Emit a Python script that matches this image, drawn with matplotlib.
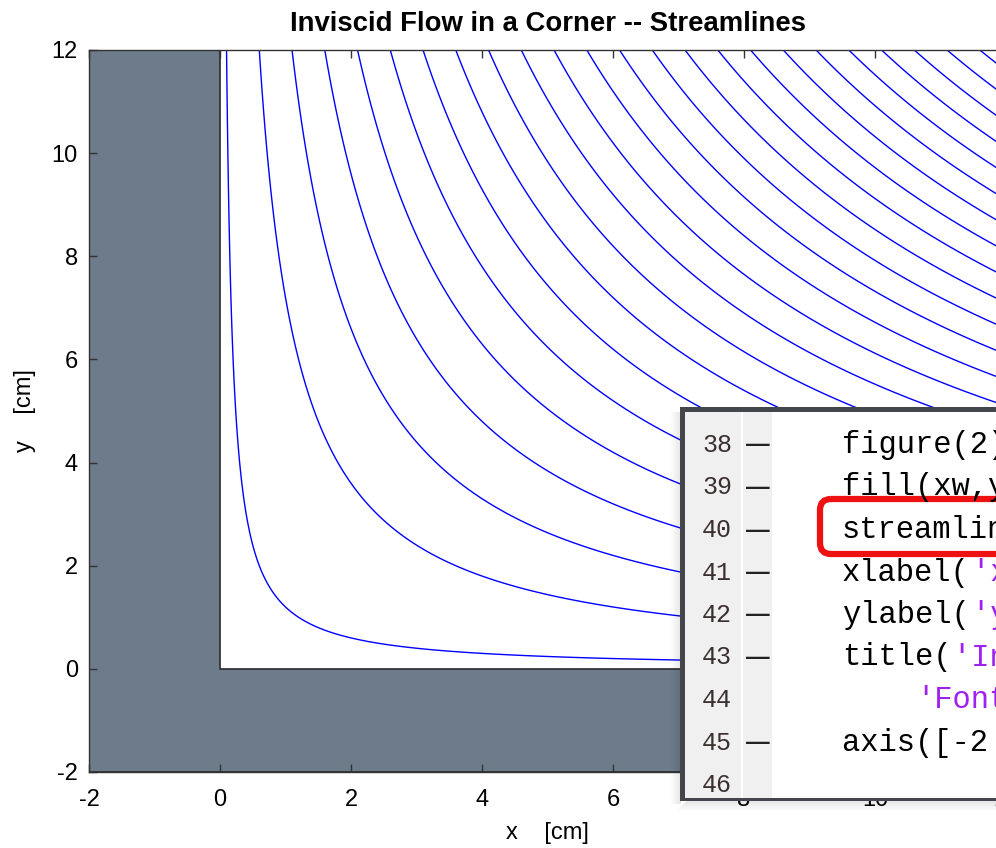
import numpy as np
import matplotlib
matplotlib.use("Agg")
import matplotlib.pyplot as plt
from matplotlib.patches import Rectangle, FancyBboxPatch

# --- données ---
# valeurs de la fonction de courant psi = x*y (une ligne par valeur)
psi_levels = [1.2, 7.2, 13.2, 19.2, 25.2, 31.2, 37.2, 43.2, 49.2, 55.2, 61.2, 67.2,
              73.2, 79.2, 85.2, 91.2, 97.2, 103.2, 109.2, 115.2, 121.2, 127.2,
              133.2, 139.2]
# contour de la paroi (coin)
wall_x = [-2, 12, 12, 0, 0, -2]
wall_y = [-2, -2, 0, 0, 12, 12]
ticks = [-2, 0, 2, 4, 6, 8, 10, 12]

# extrait de code affiché en incrustation: (numéro, tiret, code, chaîne)
code_lines = [
    ("37", False, "", ""),
    ("38", True, "figure(2)", ""),
    ("39", True, "fill(xw,yw,[0.43 0.48 0.55])", ""),
    ("40", True, "streamline(X,Y,U,V,sx,sy)", ""),
    ("41", True, "xlabel(", "'x    [cm]'"),
    ("42", True, "ylabel(", "'y    [cm]'"),
    ("43", True, "title(", "'Inviscid Flow in a Corner -- Streamlines'"),
    ("44", False, "    ", "'FontSize'"),
    ("45", True, "axis([-2 12 -2 12])", ""),
    ("46", False, "", ""),
]

plt.rcParams['font.family'] = ['Liberation Sans', 'DejaVu Sans']
plt.rcParams['axes.unicode_minus'] = False

W, H = 996, 848
fig = plt.figure(figsize=(W / 100, H / 100), dpi=100)
fig.patch.set_facecolor("white")

# axes principal (bord droit hors de l'image, comme sur la capture)
ax = fig.add_axes([89 / W, 1 - 772 / H, (1006 - 89) / W, (772 - 50) / H])
ax.fill(wall_x, wall_y, facecolor="#6d7b8b", edgecolor="#2a2a2a", linewidth=1.2, zorder=1)

xs = np.linspace(0.001, 12, 1500)
X, Y = np.meshgrid(xs, xs)
ax.contour(X, Y, X * Y, levels=psi_levels, colors="#0000ff", linewidths=1.0, zorder=2)

ax.set_xlim(-2, 12)
ax.set_ylim(-2, 12)
ax.set_xticks(ticks)
ax.set_yticks(ticks)
ax.tick_params(direction="in", length=6, width=1, color="#333333",
               top=True, right=True, labelsize=17, pad=8)
ax.tick_params(axis="x", pad=12)
for s in ax.spines.values():
    s.set_color("#333333")
    s.set_linewidth(1.0)
    s.set_zorder(3)
ax.set_xlabel("x    [cm]", fontsize=17, labelpad=8)
ax.set_ylabel("y    [cm]", fontsize=17, labelpad=11.5)
ax.set_title("Inviscid Flow in a Corner -- Streamlines", fontsize=19.8,
             fontweight="bold", pad=14)

# --- incrustation : capture de l'éditeur ---
ov = fig.add_axes([0, 0, 1, 1], zorder=10)
ov.set_xlim(0, W)
ov.set_ylim(H, 0)
ov.axis("off")
ov.patch.set_alpha(0)

# ombre portée
for i in range(10):
    a = 0.10 * (1 - i / 10)
    ov.add_patch(Rectangle((680 - i, 412), 1, 392, color="black", alpha=a, lw=0))
    ov.add_patch(Rectangle((680 - i + 6, 801 + i), 340, 1, color="black", alpha=a, lw=0))

ov.add_patch(Rectangle((680, 407), 340, 394, facecolor="#45454d", lw=0))
inner = Rectangle((685, 412), 340, 386, facecolor="white", lw=0)
ov.add_patch(inner)
ov.add_patch(Rectangle((685, 412), 56, 386, facecolor="#f0f0f0", lw=0))
ov.add_patch(Rectangle((743, 412), 29, 386, facecolor="#f0f0f0", lw=0))

y0, dy = 445, 42.5
for i, (num, dash, code, string) in enumerate(code_lines):
    yy = y0 + (i - 1) * dy
    t = ov.text(717, yy, num, fontsize=18, family="Liberation Mono",
                color="#3b3030", ha="center", va="center", clip_on=True)
    t.set_clip_path(inner)
    if dash:
        ov.text(758, yy, "\u2014", fontsize=17, fontweight="bold", color="#222222",
                ha="center", va="center")
    if code:
        ov.text(842, yy, code, fontsize=22, family="Liberation Mono",
                color="black", ha="left", va="center")
    if string:
        ov.text(842 + 18.5 * len(code), yy, string, fontsize=22,
                family="Liberation Mono", color="#a020f0", ha="left", va="center")

ov.add_patch(FancyBboxPatch((820, 499), 260, 55,
                            boxstyle="round,pad=0,rounding_size=11",
                            facecolor="none", edgecolor="#ee1111", linewidth=4.5))

fig.savefig("out.png", dpi=100)
